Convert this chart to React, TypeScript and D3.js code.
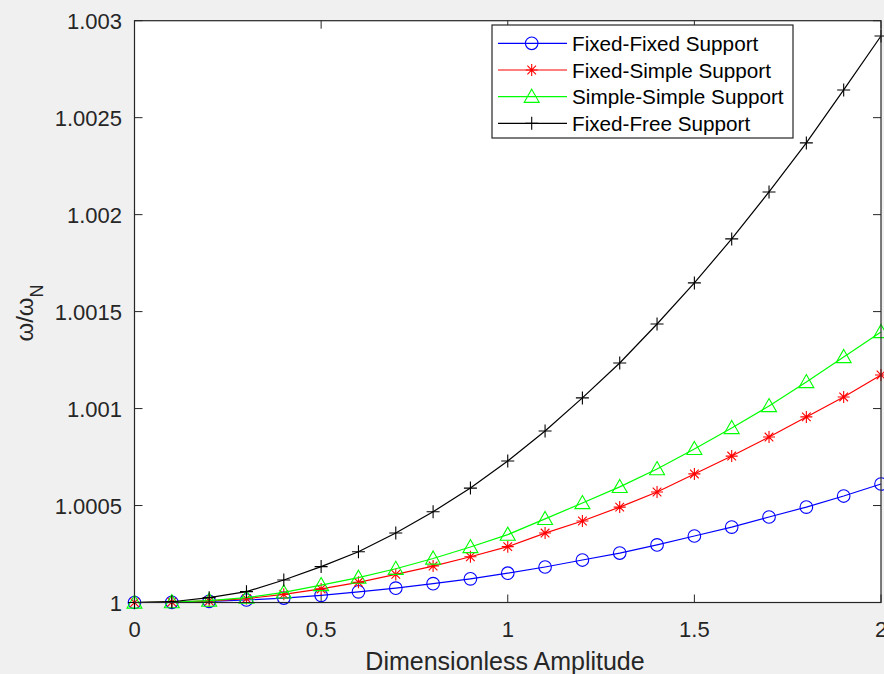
import * as d3 from "d3";

const amplitude = [0, 0.1, 0.2, 0.3, 0.4, 0.5, 0.6, 0.7, 0.8, 0.9, 1.0, 1.1, 1.2, 1.3, 1.4, 1.5, 1.6, 1.7, 1.8, 1.9, 2.0];

const fixedFixed = [1, 1.000001, 1.000006, 1.000013, 1.000023, 1.000037, 1.000055, 1.000074, 1.000097, 1.000122, 1.000151, 1.000183, 1.000219, 1.000255, 1.000297, 1.000343, 1.000389, 1.000441, 1.000492, 1.000549, 1.000611];
const fixedSimple = [1, 1.000002, 1.000008, 1.00002, 1.000042, 1.00007, 1.000104, 1.000145, 1.000188, 1.000236, 1.000288, 1.000358, 1.00042, 1.000492, 1.00057, 1.000663, 1.000755, 1.000853, 1.000957, 1.00106, 1.001173];
const simpleSimple = [1, 1.000002, 1.00001, 1.000025, 1.000052, 1.00009, 1.000128, 1.000174, 1.000227, 1.000286, 1.00035, 1.000431, 1.000513, 1.000596, 1.000688, 1.000792, 1.0009, 1.001013, 1.001137, 1.001266, 1.001395];
const fixedFree = [1, 1.000004, 1.000025, 1.000056, 1.000116, 1.000185, 1.000262, 1.000358, 1.000468, 1.00059, 1.00073, 1.000884, 1.001055, 1.001235, 1.001436, 1.001648, 1.001875, 1.002117, 1.00237, 1.002643, 1.002921];

const xTicks = [0, 0.5, 1, 1.5, 2];
const xTickLabels = ["0", "0.5", "1", "1.5", "2"];
const yTicks = [1, 1.0005, 1.001, 1.0015, 1.002, 1.0025, 1.003];
const yTickLabels = ["1", "1.0005", "1.001", "1.0015", "1.002", "1.0025", "1.003"];

type MarkerKind = "circle" | "star" | "triangle" | "plus";

const series: { name: string; values: number[]; color: string; marker: MarkerKind }[] = [
  { name: "Fixed-Fixed Support", values: fixedFixed, color: "#0000ff", marker: "circle" },
  { name: "Fixed-Simple Support", values: fixedSimple, color: "#ff0000", marker: "star" },
  { name: "Simple-Simple Support", values: simpleSimple, color: "#00ff00", marker: "triangle" },
  { name: "Fixed-Free Support", values: fixedFree, color: "#000000", marker: "plus" },
];

const W = 884;
const H = 674;
const left = 134.5;
const right = 881;
const top = 20.7;
const bottom = 602.5;
const axisColor = "#262626";
const font = "Arial, 'Liberation Sans', Helvetica, sans-serif";

function Marker({ kind, x, y, color }: { kind: MarkerKind; x: number; y: number; color: string }) {
  const common = { stroke: color, strokeWidth: 1.1, fill: "none" };
  if (kind === "circle") return <circle cx={x} cy={y} r={6.3} {...common} />;
  if (kind === "plus") {
    const s = 6.5;
    return <path d={`M${x - s},${y}H${x + s}M${x},${y - s}V${y + s}`} {...common} />;
  }
  if (kind === "star") {
    const s = 6;
    const d = s * 0.72;
    return (
      <path
        d={`M${x - s},${y}H${x + s}M${x},${y - s}V${y + s}M${x - d},${y - d}L${x + d},${y + d}M${x - d},${y + d}L${x + d},${y - d}`}
        {...common}
      />
    );
  }
  const s = 7.5;
  return <path d={`M${x},${y - s}L${x + s},${y + s * 0.75}L${x - s},${y + s * 0.75}Z`} {...common} />;
}

export default function App() {
  const x = d3.scaleLinear().domain([0, 2]).range([left, right]);
  const y = d3.scaleLinear().domain([1, 1.003]).range([bottom, top]);

  const line = d3
    .line<number>()
    .x((_, i) => x(amplitude[i]))
    .y((d) => y(d));

  const tickLen = 8;

  // legend layout
  const lgX = 492;
  const lgY = 25;
  const lgW = 301;
  const lgH = 113;
  const rowY = [43.3, 70, 96.7, 123.3];

  return (
    <svg
      width={W}
      height={H}
      style={{ position: "absolute", left: 0, top: 0, background: "#f0f0f0" }}
      fontFamily={font}
    >
      <rect x={left} y={top} width={right - left} height={bottom - top} fill="#ffffff" />

      {/* ticks on all four sides, pointing inward */}
      {xTicks.map((t) => (
        <g key={`xt${t}`} stroke={axisColor} strokeWidth={1}>
          <line x1={x(t)} x2={x(t)} y1={bottom} y2={bottom - tickLen} />
          <line x1={x(t)} x2={x(t)} y1={top} y2={top + tickLen} />
        </g>
      ))}
      {yTicks.map((t) => (
        <g key={`yt${t}`} stroke={axisColor} strokeWidth={1}>
          <line x1={left} x2={left + tickLen} y1={y(t)} y2={y(t)} />
          <line x1={right} x2={right - tickLen} y1={y(t)} y2={y(t)} />
        </g>
      ))}

      {series.map((s) => (
        <g key={s.name}>
          <path d={line(s.values) ?? ""} fill="none" stroke={s.color} strokeWidth={1.2} />
          {s.values.map((v, i) => (
            <Marker key={i} kind={s.marker} x={x(amplitude[i])} y={y(v)} color={s.color} />
          ))}
        </g>
      ))}

      <rect
        x={left}
        y={top}
        width={right - left}
        height={bottom - top}
        fill="none"
        stroke={axisColor}
        strokeWidth={1.2}
      />

      {xTicks.map((t, i) => (
        <text key={`xl${t}`} x={x(t)} y={637} textAnchor="middle" fontSize={22} fill={axisColor}>
          {xTickLabels[i]}
        </text>
      ))}
      {yTicks.map((t, i) => (
        <text key={`yl${t}`} x={122} y={y(t) + 8} textAnchor="end" fontSize={22} fill={axisColor}>
          {yTickLabels[i]}
        </text>
      ))}

      <text x={505} y={670} textAnchor="middle" fontSize={25} fill={axisColor}>
        Dimensionless Amplitude
      </text>
      <text transform="translate(33,313) rotate(-90)" textAnchor="middle" fontSize={24} fill={axisColor}>
        ω/ω<tspan baselineShift="sub" fontSize={18}>N</tspan>
      </text>

      {/* legend */}
      <rect x={lgX} y={lgY} width={lgW} height={lgH} fill="#ffffff" stroke={axisColor} strokeWidth={1.2} />
      {series.map((s, i) => (
        <g key={`lg${s.name}`}>
          <line x1={498} x2={567} y1={rowY[i]} y2={rowY[i]} stroke={s.color} strokeWidth={1.2} />
          <Marker kind={s.marker} x={531.7} y={rowY[i]} color={s.color} />
          <text x={572} y={rowY[i] + 7.5} fontSize={20.7} fill="#000000">
            {s.name}
          </text>
        </g>
      ))}
    </svg>
  );
}
